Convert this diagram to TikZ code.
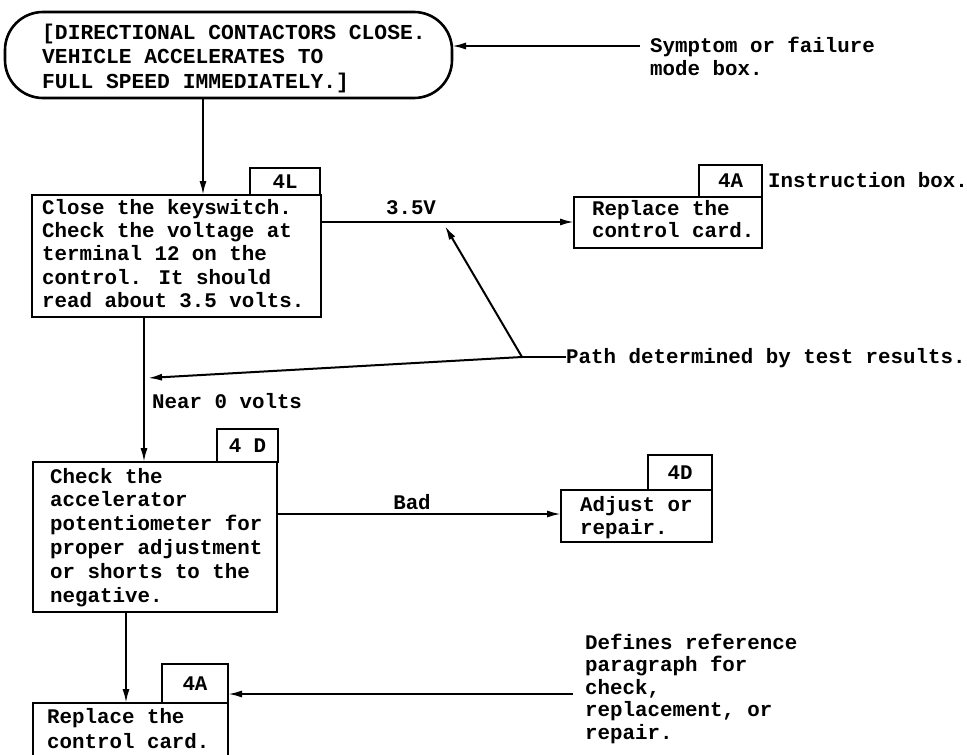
\documentclass[tikz,border=0pt]{standalone}
\usepackage{fontspec}
\setmainfont{Liberation Mono}
\usetikzlibrary{arrows.meta}
\tikzset{
  frame/.style={draw, line width=2.6pt, inner sep=0pt, outer sep=0pt},
  tag/.style={frame, anchor=south west, font=\fontsize{20.8}{23.3}\selectfont\bfseries},
  txt/.style={inner sep=0pt, align=left, anchor=north west},
  lbl/.style={inner sep=0pt, font=\fontsize{20.8}{23.3}\selectfont\bfseries},
  conn/.style={line width=2pt},
  arr/.style={conn, -{Latex[length=14pt,width=7pt]}},
}
\begin{document}
\begin{tikzpicture}[x=1pt,y=-1pt]
\useasboundingbox (0,0) rectangle (967,755);
\clip (0,0) rectangle (967,755);

% symptom box
\node[frame, rounded corners=38pt, minimum width=447pt, minimum height=86pt, anchor=north west] (sym) at (5,12) {};
\node[txt, font=\fontsize{21.3}{24.5}\selectfont\bfseries] (symtxt) at (42,21.85)
  {\strut[DIRECTIONAL CONTACTORS CLOSE.\\VEHICLE ACCELERATES TO\\FULL SPEED IMMEDIATELY.]};
\node[txt, font=\fontsize{20.8}{23.3}\selectfont\bfseries] (symnote) at (650,35.7)
  {\strut Symptom or failure\\mode box.};

% step 4L
\node[frame, minimum width=289pt, minimum height=122pt, anchor=north west] (s4L) at (32,195) {};
\node[tag, minimum width=70pt, minimum height=27pt] (t4L) at (250,195) {4L};
\node[txt, font=\fontsize{20.8}{23.3}\selectfont\bfseries] (s4Ltxt) at (42,197.7)
  {\strut Close the keyswitch.\\Check the voltage at\\terminal 12 on the\\control.  It should\\read about 3.5 volts.};

% upper replace box 4A
\node[frame, minimum width=188pt, minimum height=51pt, anchor=north west] (rA) at (574,197) {};
\node[tag, minimum width=63pt, minimum height=32pt] (tA) at (699,197) {4A};
\node[txt, font=\fontsize{20.8}{21.5}\selectfont\bfseries] (rAtxt) at (592,199.95)
  {\strut Replace the\\control card.};
\node[lbl, anchor=base west] (instr) at (768,187) {Instruction box.};

% step 4D
\node[frame, minimum width=244pt, minimum height=150pt, anchor=north west] (s4D) at (33,462) {};
\node[tag, minimum width=61pt, minimum height=33pt] (t4D) at (217,462) {4 D};
\node[txt, font=\fontsize{20.8}{23.8}\selectfont\bfseries] (s4Dtxt) at (50,466.3)
  {\strut Check the\\accelerator\\potentiometer for\\proper adjustment\\or shorts to the\\negative.};

% adjust box 4D
\node[frame, minimum width=151pt, minimum height=52pt, anchor=north west] (adj) at (561,490) {};
\node[tag, minimum width=64pt, minimum height=35pt] (tadj) at (648,490) {4D};
\node[txt, font=\fontsize{20.8}{23}\selectfont\bfseries] (adjtxt) at (580,494.9)
  {\strut Adjust or\\repair.};

% lower replace box 4A
\node[frame, minimum width=195pt, minimum height=80pt, anchor=north west] (rB) at (33,703) {};
\node[tag, minimum width=66pt, minimum height=39pt] (tB) at (162,703) {4A};
\node[txt, font=\fontsize{20.8}{25}\selectfont\bfseries] (rBtxt) at (47,705.5)
  {\strut Replace the\\control card.};

% reference note
\node[txt, font=\fontsize{20.8}{22.5}\selectfont\bfseries] (refnote) at (585,633.25)
  {\strut Defines reference\\paragraph for\\check,\\replacement, or\\repair.};

% path note
\node[lbl, anchor=base west] (pathnote) at (566,363) {Path determined by test results.};

% branch labels
\node[lbl, anchor=base] (l35) at (411,214) {3.5V};
\node[lbl, anchor=base west] (lnear) at (152,408) {Near 0 volts};
\node[lbl, anchor=base] (lbad) at (412,509) {Bad};

% reference points
\coordinate (symtail) at (640,46);
\coordinate (xa) at (203,0);
\coordinate (y35) at (0,222);
\coordinate (xb) at (144,0);
\coordinate (ybad) at (0,514);
\coordinate (xc) at (126,0);
\coordinate (reftail) at (573,694);
\coordinate (pj) at (522,357);
\coordinate (ptip1) at (445,226);
\coordinate (ptip2) at (148,378);

% flow connectors
\draw[arr] (symtail) -- (symtail -| sym.east);
\draw[arr] (sym.south -| xa) -- (s4L.north -| xa);
\draw[arr] (s4L.east |- y35) -- (rA.west |- y35);
\draw[arr] (s4L.south -| xb) -- (s4D.north -| xb);
\draw[arr] (s4D.east |- ybad) -- (adj.west |- ybad);
\draw[arr] (s4D.south -| xc) -- (rB.north -| xc);
\draw[arr] (reftail) -- (reftail -| tB.east);

% path callouts
\draw[conn] (pathnote.west |- pj) -- (pj);
\draw[arr] (pj) -- (ptip1);
\draw[arr] (pj) -- (ptip2);
\end{tikzpicture}
\end{document}
